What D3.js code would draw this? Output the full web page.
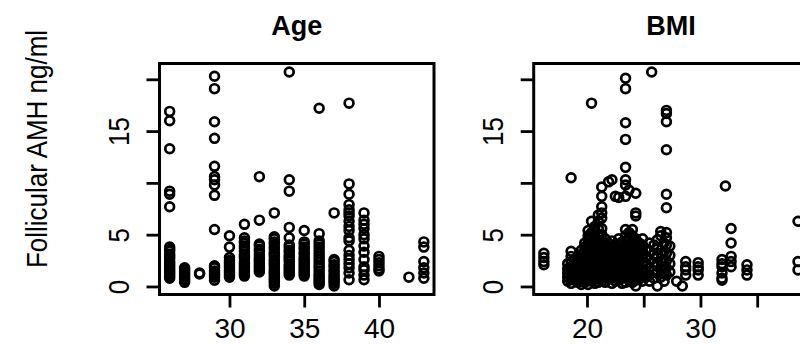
<!DOCTYPE html>
<html><head><meta charset="utf-8">
<script src="https://cdn.jsdelivr.net/npm/d3@7"></script>
<style>html,body{margin:0;padding:0;background:#fff;}svg{display:block;}</style>
</head><body>
<script>
// ---- Data ----
const yLabel = "Follicular AMH ng/ml";
const panelTitles = ["Age", "BMI"];
const yTicks = [0, 5, 10, 15, 20];
const yTickLabels = ["0", "5", "", "15", ""];
const ageTicks = [30, 35, 40];
const ageTickLabels = ["30", "35", "40"];
const bmiTicks = [20, 25, 30, 35];
const bmiTickLabels = ["20", "", "30", ""];

const ageGroups = [26, 27, 28, 29, 30, 31, 32, 33, 34, 35, 36, 37, 38, 39, 40, 42, 43];
const amhByAge = [
  [16.9, 16.0, 13.3, 9.2, 8.9, 7.7, 3.8, 3.6, 3.4, 3.1, 2.9, 2.7, 2.4, 2.2, 2.0, 1.8, 1.6, 1.4, 1.2, 1.0, 0.8],
  [1.8, 1.6, 1.4, 1.2, 1.0, 0.8, 0.6, 0.4],
  [1.3, 1.2],
  [20.3, 19.1, 15.9, 14.3, 11.6, 10.6, 10.3, 9.8, 8.8, 5.5, 2.0, 1.8, 1.5, 1.3, 1.1, 0.9, 0.6],
  [4.9, 3.8, 2.8, 2.5, 2.3, 2.1, 1.9, 1.7, 1.5, 1.3, 1.1, 0.9],
  [6.0, 4.7, 4.4, 4.2, 3.9, 3.7, 3.4, 3.1, 2.9, 2.7, 2.4, 2.2, 2.0, 1.8, 1.6, 1.4, 1.2, 1.0],
  [10.6, 6.4, 4.1, 3.9, 3.6, 3.4, 3.1, 2.8, 2.6, 2.4, 2.2, 2.0, 1.8, 1.6, 1.4],
  [7.1, 4.8, 4.6, 4.3, 4.1, 3.8, 3.6, 3.3, 3.1, 2.9, 2.6, 2.4, 2.2, 2.0, 1.7, 1.5, 1.3, 1.1, 0.9, 0.7, 0.5, 0.3, 0.05],
  [20.7, 10.3, 9.2, 5.7, 4.7, 4.0, 3.8, 3.5, 3.3, 3.0, 2.8, 2.6, 2.4, 2.1, 1.9, 1.7, 1.5, 1.3, 1.1],
  [5.4, 4.3, 4.1, 3.8, 3.6, 3.3, 3.1, 2.8, 2.6, 2.4, 2.2, 2.0, 1.8, 1.6, 1.4, 1.2, 1.0],
  [17.2, 5.1, 4.4, 4.1, 3.8, 3.5, 3.2, 2.9, 2.6, 2.3, 2.0, 1.8, 1.5, 1.2, 1.0, 0.8, 0.6, 0.4, 0.2],
  [7.1, 2.6, 2.4, 2.1, 1.9, 1.6, 1.4, 1.1, 0.9, 0.7, 0.5, 0.3, 0.05],
  [17.7, 9.9, 8.9, 7.9, 7.4, 7.1, 6.8, 6.3, 5.8, 5.4, 4.7, 4.4, 3.5, 3.0, 2.6, 2.2, 1.8, 1.3, 0.65],
  [7.1, 6.4, 6.0, 5.6, 5.0, 4.6, 3.9, 3.3, 2.6, 1.9, 1.6, 1.1, 0.65],
  [2.9, 2.6, 2.3, 2.0, 1.7, 1.5],
  [0.9],
  [4.3, 3.8, 2.4, 1.8, 1.3, 0.8]
];

const bmiGroups = [16.2, 18.3, 18.6, 18.9, 19.2, 19.5, 19.8, 20.1, 20.4, 20.7, 21.0, 21.3, 21.6, 21.9, 22.2, 22.5, 22.8, 23.1, 23.4, 23.7, 24.0, 24.3, 24.6, 24.9, 25.2, 25.5, 25.7, 25.9, 26.2, 26.5, 26.8, 27.0, 27.3, 27.9, 28.4, 28.7, 29.8, 31.9, 32.2, 32.7, 34.1, 38.6];
const amhByBmi = [
  [3.2, 2.8, 2.4, 2.1],
  [2.2, 1.7, 1.3, 0.9, 0.5],
  [10.5, 3.4, 2.9, 2.4, 1.9, 1.5, 1.1, 0.7, 0.3],
  [2.6, 2.2, 1.8, 1.4, 1.0, 0.6],
  [2.9, 2.5, 2.0, 1.6, 1.2, 0.8, 0.4],
  [3.5, 3.1, 2.7, 2.3, 1.9, 1.4, 1.0, 0.6, 0.2],
  [4.2, 3.8, 3.3, 2.9, 2.5, 2.0, 1.6, 1.2, 0.8, 0.4],
  [5.4, 4.9, 4.5, 4.0, 3.6, 3.1, 2.7, 2.2, 1.8, 1.4, 1.0, 0.6, 0.2],
  [17.7, 6.3, 5.2, 4.7, 4.3, 3.8, 3.4, 2.9, 2.5, 2.1, 1.7, 1.3, 0.9, 0.5],
  [5.8, 5.3, 4.8, 4.5, 4.1, 3.6, 3.2, 2.7, 2.3, 1.9, 1.5, 1.1, 0.7, 0.3],
  [6.9, 6.3, 5.6, 5.0, 4.5, 4.0, 3.5, 3.0, 2.5, 2.1, 1.6, 1.2, 0.8, 0.4],
  [9.6, 8.7, 7.7, 7.1, 6.6, 5.6, 5.0, 4.4, 3.7, 3.1, 2.6, 2.0, 1.5, 1.0, 0.5],
  [4.6, 4.0, 3.5, 2.9, 2.4, 1.9, 1.4, 0.9, 0.4],
  [10.1, 4.2, 3.7, 3.2, 2.7, 2.2, 1.7, 1.2, 0.7],
  [10.3, 4.4, 3.9, 3.4, 2.8, 2.3, 1.8, 1.3, 0.8, 0.3],
  [8.7, 4.0, 3.5, 3.0, 2.5, 2.0, 1.5, 1.0, 0.5],
  [8.6, 4.6, 4.1, 3.6, 3.1, 2.6, 2.1, 1.6, 1.1, 0.6],
  [4.3, 3.8, 3.3, 2.8, 2.3, 1.8, 1.3, 0.8, 0.3],
  [20.1, 19.1, 15.8, 14.2, 11.5, 10.3, 9.8, 8.7, 5.5, 4.9, 4.4, 3.9, 3.4, 2.9, 2.4, 1.9, 1.4, 0.9, 0.4],
  [9.3, 5.2, 4.6, 4.1, 3.6, 3.1, 2.6, 2.1, 1.6, 1.1, 0.6],
  [5.5, 4.9, 4.4, 3.9, 3.4, 2.9, 2.4, 1.9, 1.4, 0.9, 0.4],
  [9.0, 7.1, 6.8, 4.6, 4.1, 3.6, 3.1, 2.6, 2.1, 1.6, 1.1, 0.6, 0.05],
  [4.2, 3.7, 3.2, 2.7, 2.2, 1.7, 1.2, 0.7],
  [4.6, 4.0, 3.4, 2.8, 2.2, 1.6, 1.0, 0.5],
  [3.6, 2.9, 2.2, 1.5, 0.9],
  [4.2, 3.4, 2.6, 1.8, 1.1, 0.5],
  [20.7],
  [4.0, 3.1, 2.3, 1.5, 0.8],
  [4.5, 3.6, 2.8, 2.0, 1.3, 0.05],
  [5.3, 4.9, 3.2, 2.4, 1.6, 0.9],
  [4.2, 3.4, 2.6, 1.9, 1.2, 0.5],
  [17.0, 16.7, 15.9, 13.2, 8.9, 7.6, 5.2, 4.7, 4.0, 3.2, 2.5, 1.8, 1.1],
  [3.9, 3.0, 2.2, 1.4],
  [0.5],
  [0.05],
  [2.4, 1.9, 1.6, 1.1],
  [2.3, 1.9, 1.6, 1.1],
  [2.6, 2.2, 1.9, 1.3, 0.8, 0.6],
  [9.7],
  [5.6, 4.2, 2.9, 2.4, 1.9],
  [2.1, 1.6, 1.1],
  [6.3, 2.4, 1.6]
];

// ---- Layout ----
const W = 800, H = 344;
const FONT = "'Liberation Sans', Arial, sans-serif";
const svg = d3.select("body").append("svg").attr("width", W).attr("height", H)
  .style("font-family", FONT);

const plotTop = 63.5, plotBottom = 294.5, plotW = 274.5;
const panels = [
  { left: 159.5, title: panelTitles[0], groups: ageGroups, vals: amhByAge, ticks: ageTicks, labels: ageTickLabels },
  { left: 533.7, title: panelTitles[1], groups: bmiGroups, vals: amhByBmi, ticks: bmiTicks, labels: bmiTickLabels }
];

function rExtent(arr) {
  const [a, b] = d3.extent(arr);
  const p = (b - a) * 0.04;
  return [a - p, b + p];
}

const allAmh = amhByAge.flat();
const yScale = d3.scaleLinear().domain(rExtent(allAmh)).range([plotBottom, plotTop]);

svg.append("text")
  .attr("transform", `translate(47,149) scale(1.15,1) rotate(-90)`)
  .attr("text-anchor", "middle")
  .attr("font-size", 26)
  .attr("fill", "#000")
  .text(yLabel);

panels.forEach(p => {
  const pts = [];
  p.groups.forEach((gv, i) => p.vals[i].forEach(v => pts.push([gv, v])));
  const x = d3.scaleLinear().domain(rExtent(pts.map(d => d[0]))).range([p.left, p.left + plotW]);
  const g = svg.append("g");

  g.append("g").selectAll("circle").data(pts).enter().append("circle")
    .attr("cx", d => x(d[0])).attr("cy", d => yScale(d[1]))
    .attr("r", 4.4).attr("fill", "none").attr("stroke", "#000").attr("stroke-width", 2.7);

  // box
  g.append("rect").attr("x", p.left).attr("y", plotTop)
    .attr("width", plotW).attr("height", plotBottom - plotTop)
    .attr("fill", "none").attr("stroke", "#000").attr("stroke-width", 3);

  // y axis
  const yAxis = d3.axisLeft(yScale).tickValues(yTicks).tickSize(13).tickSizeOuter(0)
    .tickFormat((d, i) => yTickLabels[i]);
  const ya = g.append("g").attr("transform", `translate(${p.left},0)`).call(yAxis);
  ya.select(".domain").remove();
  ya.selectAll(".tick line").attr("stroke", "#000").attr("stroke-width", 2.8);
  ya.selectAll(".tick text")
    .attr("font-size", 26).attr("fill", "#000")
    .attr("font-family", FONT)
    .attr("x", null).attr("dy", null)
    .attr("text-anchor", "middle")
    .attr("transform", "translate(-31,0) scale(1.12,1) rotate(-90)");

  // x axis
  const xAxis = d3.axisBottom(x).tickValues(p.ticks).tickSize(13).tickSizeOuter(0)
    .tickFormat((d, i) => p.labels[i]);
  const xa = g.append("g").attr("transform", `translate(0,${plotBottom})`).call(xAxis);
  xa.select(".domain").remove();
  xa.selectAll(".tick line").attr("stroke", "#000").attr("stroke-width", 2.8);
  xa.selectAll(".tick text")
    .attr("font-size", 28).attr("fill", "#000")
    .attr("font-family", FONT)
    .attr("y", 43).attr("dy", null);

  // title
  svg.append("text")
    .attr("x", p.left + plotW / 2).attr("y", 35)
    .attr("text-anchor", "middle")
    .attr("font-size", 27).attr("font-weight", "bold").attr("fill", "#000")
    .text(p.title);
});
</script>
</body></html>
